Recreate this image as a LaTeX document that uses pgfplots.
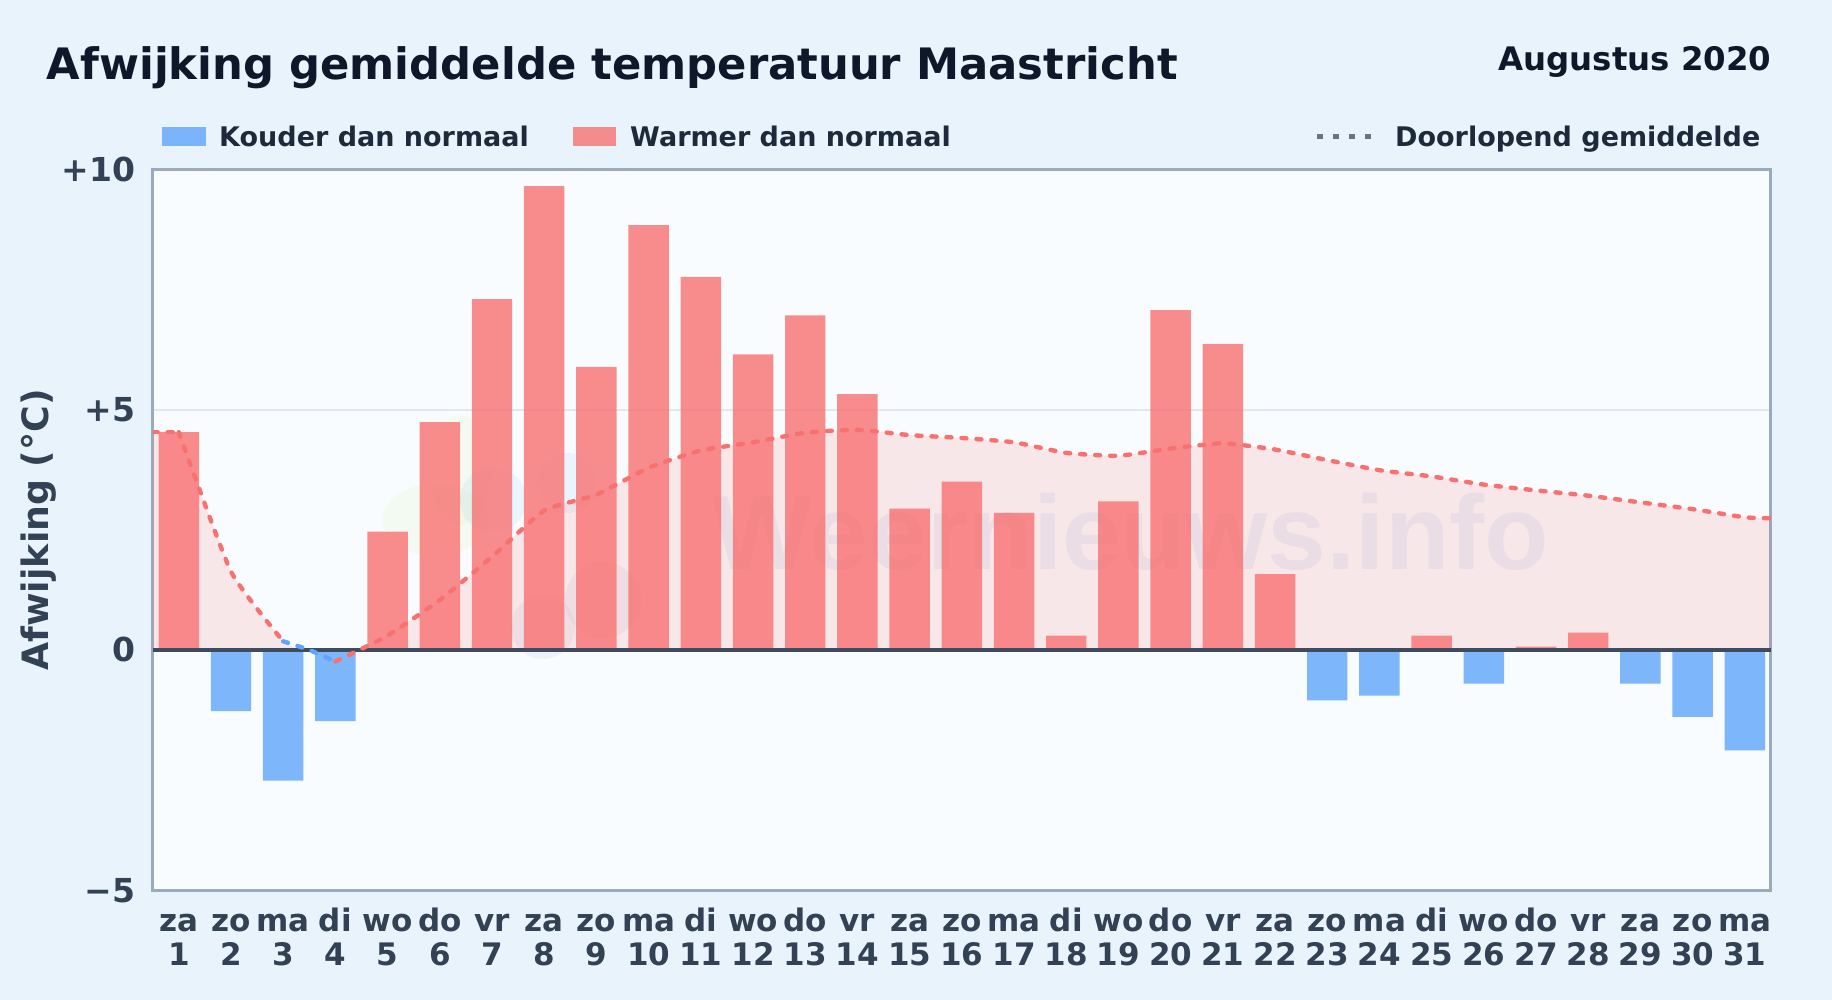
\documentclass[border=0pt]{standalone}
\usepackage{pgfplots}
\usepackage{fontspec}
\pgfplotsset{compat=1.18}
\setmainfont{DejaVu Sans}
\newfontfamily\wmfont{Liberation Sans}
\definecolor{pagebg}{HTML}{E8F3FC}
\definecolor{panel}{HTML}{F8FCFF}
\definecolor{frame}{HTML}{9AA9BC}
\definecolor{zeroc}{HTML}{3F4B5E}
\definecolor{gridc}{HTML}{E2E8EE}
\definecolor{titlec}{HTML}{0F172A}
\definecolor{legc}{HTML}{1E293B}
\definecolor{tickc}{HTML}{334155}
\definecolor{blueb}{HTML}{60A5FA}
\definecolor{redb}{HTML}{F87171}
\definecolor{dotc}{HTML}{6B7280}
\definecolor{wmc}{HTML}{4A86C8}
\definecolor{logob}{HTML}{93C5FD}
\definecolor{logog}{HTML}{94A3B8}
\definecolor{logoy}{HTML}{D9F0A0}
\pgfplotstableread{
day val
1 4.53
2 -1.27
3 -2.72
4 -1.48
5 2.46
6 4.74
7 7.30
8 9.65
9 5.89
10 8.84
11 7.76
12 6.15
13 6.96
14 5.32
15 2.94
16 3.50
17 2.85
18 0.30
19 3.09
20 7.07
21 6.37
22 1.58
23 -1.05
24 -0.95
25 0.30
26 -0.70
27 0.07
28 0.36
29 -0.70
30 -1.39
31 -2.09
}\devtable
\begin{document}
\begin{tikzpicture}[x=1pt,y=1pt]
\useasboundingbox (0,0) rectangle (1832,1000);
\fill[pagebg] (0,0) rectangle (1832,1000);
\fill[panel] (152.7,109.7) rectangle (1771,830.7);
% faint logo
\fill[logoy,opacity=0.14] (435,480) ellipse (52 and 36);
\fill[logoy,opacity=0.14] (460,530) ellipse (30 and 55);
\fill[logob,opacity=0.14] (493,500) circle (33);
\fill[logob,opacity=0.14] (567,517) circle (30);
\fill[logog,opacity=0.10] (543,373) circle (32);
\fill[logog,opacity=0.10] (603,400) circle (38);
% watermark
\node[anchor=base west,inner sep=0pt,font=\wmfont\bfseries\fontsize{105.6}{106}\selectfont,text=wmc,opacity=0.09] at (712,430) {Weernieuws.info};
\begin{axis}[
  at={(152.7pt,109.7pt)},anchor=south west,
  scale only axis,width=1618.3pt,height=721pt,
  xmin=0.5,xmax=31.5,ymin=-5,ymax=10,
  axis line style={draw=frame,line width=3pt},
  xtick={1,...,31},
  xticklabels={{\vphantom{d}za\\1},{\vphantom{d}zo\\2},{\vphantom{d}ma\\3},{\vphantom{d}di\\4},{\vphantom{d}wo\\5},{\vphantom{d}do\\6},{\vphantom{d}vr\\7},{\vphantom{d}za\\8},{\vphantom{d}zo\\9},{\vphantom{d}ma\\10},{\vphantom{d}di\\11},{\vphantom{d}wo\\12},{\vphantom{d}do\\13},{\vphantom{d}vr\\14},{\vphantom{d}za\\15},{\vphantom{d}zo\\16},{\vphantom{d}ma\\17},{\vphantom{d}di\\18},{\vphantom{d}wo\\19},{\vphantom{d}do\\20},{\vphantom{d}vr\\21},{\vphantom{d}za\\22},{\vphantom{d}zo\\23},{\vphantom{d}ma\\24},{\vphantom{d}di\\25},{\vphantom{d}wo\\26},{\vphantom{d}do\\27},{\vphantom{d}vr\\28},{\vphantom{d}za\\29},{\vphantom{d}zo\\30},{\vphantom{d}ma\\31}},
  x tick label style={align=center,font=\bfseries\fontsize{31}{34}\selectfont,text=tickc,yshift=-14pt},
  ytick={-5,0,5,10},
  yticklabels={{−5},{0},{+5},{+10}},
  y tick label style={font=\bfseries\fontsize{33}{33}\selectfont,text=tickc,xshift=-14pt},
  tick style={draw=none},
  ymajorgrids,
  grid style={draw=gridc,line width=1.8pt},
  ylabel={Afwijking (°C)},
  every axis y label/.style={at={(axis description cs:0,0.5)},rotate=90,anchor=center,yshift=114pt,font=\bfseries\fontsize{36.3}{37}\selectfont,text=tickc},
  clip=true,
]
% area under the running mean (positive parts)
\addplot[draw=none,fill=redb,fill opacity=0.15] coordinates {(0.5,4.53) (1,4.53)} \closedcycle;
\addplot[smooth,tension=0.3,draw=none,fill=redb,fill opacity=0.15] coordinates {(1,4.53) (2,1.63) (3,0.18) (3.44,0)} \closedcycle;
\addplot[smooth,tension=0.3,draw=none,fill=redb,fill opacity=0.15] coordinates {(4.44,0) (5,0.30) (6,1.04) (7,1.94) (8,2.90) (9,3.23) (10,3.79) (11,4.15) (12,4.32) (13,4.52) (14,4.58) (15,4.47) (16,4.41) (17,4.32) (18,4.10) (19,4.04) (20,4.19) (21,4.30) (22,4.17) (23,3.95) (24,3.74) (25,3.61) (26,3.44) (27,3.32) (28,3.21) (29,3.07) (30,2.93) (31,2.76) (31.5,2.74)} \closedcycle;
% bars
\addplot[ybar,bar width=0.775,bar shift=0pt,draw=none,fill=redb,fill opacity=0.8,restrict y to domain=0:20] table[x=day,y=val] \devtable;
\addplot[ybar,bar width=0.775,bar shift=0pt,draw=none,fill=blueb,fill opacity=0.8,restrict y to domain=-20:0] table[x=day,y=val] \devtable;
% zero line
\addplot[draw=zeroc,line width=3.4pt] coordinates {(0.5,0) (31.5,0)};
% running mean
\addplot[draw=redb,line width=4.4pt,line cap=round,dash pattern=on 5pt off 10pt] coordinates {(0.5,4.53) (1,4.53)};
\addplot[smooth,tension=0.3,draw=redb,line width=4.4pt,line cap=round,dash pattern=on 5pt off 10pt] coordinates {(1,4.53) (2,1.63) (3,0.18)};
\addplot[smooth,tension=0.3,draw=blueb,line width=4.4pt,line cap=round,dash pattern=on 5pt off 10pt] coordinates {(3,0.18) (3.5,0.0) (4,-0.24)};
\addplot[smooth,tension=0.3,draw=redb,line width=4.4pt,line cap=round,dash pattern=on 5pt off 10pt] coordinates {(4,-0.24) (5,0.30) (6,1.04) (7,1.94) (8,2.90) (9,3.23) (10,3.79) (11,4.15) (12,4.32) (13,4.52) (14,4.58) (15,4.47) (16,4.41) (17,4.32) (18,4.10) (19,4.04) (20,4.19) (21,4.30) (22,4.17) (23,3.95) (24,3.74) (25,3.61) (26,3.44) (27,3.32) (28,3.21) (29,3.07) (30,2.93) (31,2.76) (31.5,2.74)};
\end{axis}
% title
\node[anchor=base west,inner sep=0pt,font=\bfseries\fontsize{43.3}{44}\selectfont,text=titlec] at (46.7,920) {Afwijking gemiddelde temperatuur Maastricht};
\node[anchor=base east,inner sep=0pt,font=\bfseries\fontsize{32.4}{33}\selectfont,text=titlec] at (1771.5,929) {Augustus 2020};
% legend
\fill[blueb,opacity=0.8] (162,854) rectangle (206,873);
\node[anchor=base west,inner sep=0pt,font=\bfseries\fontsize{27}{27}\selectfont,text=legc] at (219,853.2) {Kouder dan normaal};
\fill[redb,opacity=0.8] (573,854) rectangle (616,873);
\node[anchor=base west,inner sep=0pt,font=\bfseries\fontsize{27}{27}\selectfont,text=legc] at (630,853.2) {Warmer dan normaal};
\draw[dotc,line width=5pt,dash pattern=on 5.6pt off 10.4pt] (1317,863.3) -- (1375,863.3);
\node[anchor=base west,inner sep=0pt,font=\bfseries\fontsize{27}{27}\selectfont,text=legc] at (1395,853.6) {Doorlopend gemiddelde};
\end{tikzpicture}
\end{document}
